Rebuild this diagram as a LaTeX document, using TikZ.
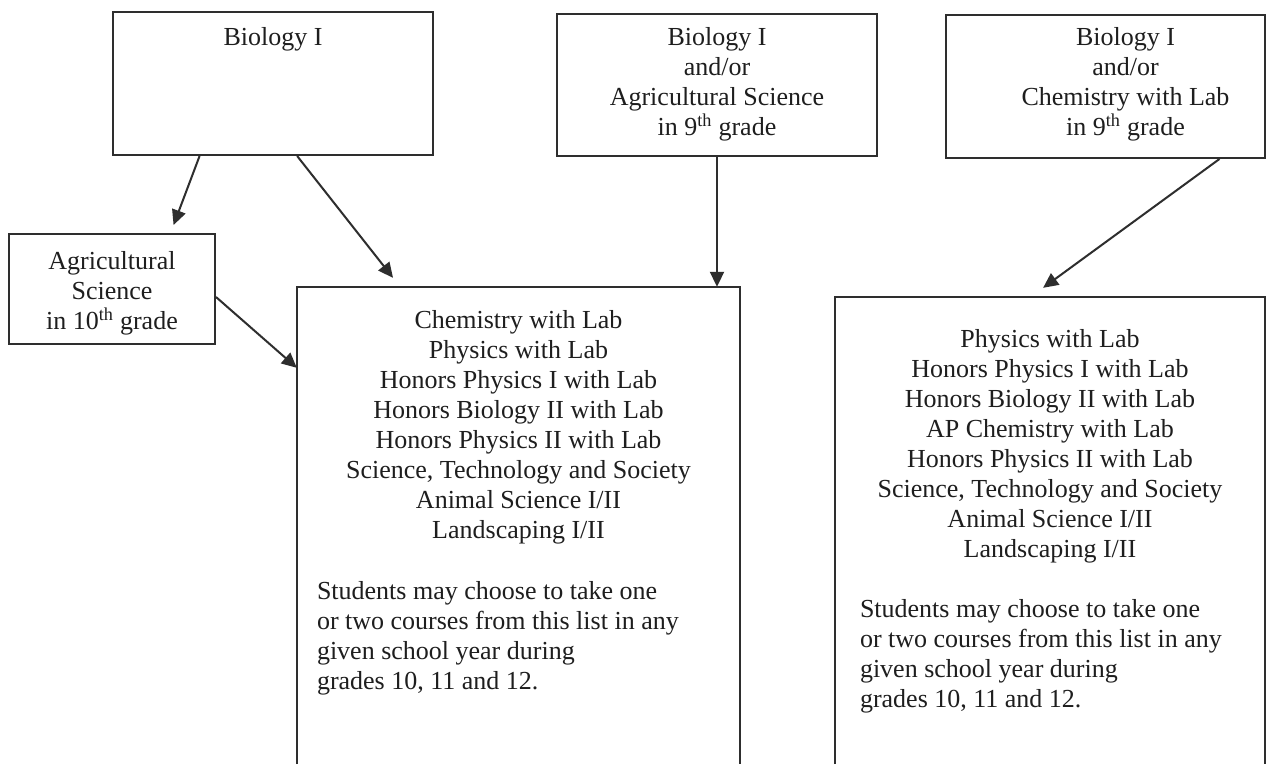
\documentclass[tikz,border=0pt]{standalone}
\usepackage{fontspec}
\setmainfont{Liberation Serif}
\usetikzlibrary{arrows.meta,calc,fit}
\definecolor{ink}{HTML}{2E2E2E}
\definecolor{txtc}{HTML}{1E1E1E}
\begin{document}
\begin{tikzpicture}[x=1pt,y=-1pt,
  frame/.style={draw=ink, line width=2pt, inner sep=0pt},
  openbox/.style={draw=none, inner sep=0pt},
  frameline/.style={draw=ink, line width=2pt},
  txt/.style={inner sep=0pt, text=txtc, align=center, font=\fontsize{26}{30}\selectfont},
  para/.style={inner sep=0pt, text=txtc, align=left, font=\fontsize{26}{30}\selectfont},
  arr/.style={draw=ink, line width=2pt, -{Triangle[length=15pt,width=14pt]}}]
\useasboundingbox[fill=white] (0,0) rectangle (1270,764);

% boxes
\node (A) [frame, fit={(113,12) (433,155)}] {};
\node (B) [frame, fit={(557,14) (877,156)}] {};
\node (C) [frame, fit={(946,15) (1265,158)}] {};
\node (D) [frame, fit={(9,234) (215,344)}] {};
\node (E) [openbox, fit={(297,287) (740,764)}] {};
\node (F) [openbox, fit={(835,297) (1265,764)}] {};
\draw[frameline] (E.south west) -- (E.north west) -- (E.north east) -- (E.south east);
\draw[frameline] (F.south west) -- (F.north west) -- (F.north east) -- (F.south east);

% texts
\node (At) [txt, anchor=north] at ($(A.north)+(0,16)$) {Biology I};
\node (Bt) [txt, anchor=north] at ($(B.north)+(0,14)$) {Biology I\\and/or\\Agricultural Science\\in 9\textsuperscript{th} grade};
\node (Ct) [txt, anchor=north] at ($(C.north)+(20,13)$) {Biology I\\and/or\\Chemistry with Lab\\in 9\textsuperscript{th} grade};
\node (Dt) [txt, anchor=north] at ($(D.north)+(0,18)$) {Agricultural\\Science\\in 10\textsuperscript{th} grade};
\node (Et) [txt, anchor=north] at ($(E.north)+(0,23)$) {Chemistry with Lab\\Physics with Lab\\Honors Physics I with Lab\\Honors Biology II with Lab\\Honors Physics II with Lab\\Science, Technology and Society\\Animal Science I/II\\Landscaping I/II};
\node (Ep) [para, anchor=north west] at ($(E.north west)+(20,294)$) {Students may choose to take one\\or two courses from this list in any\\given school year during\\grades 10, 11 and 12.};
\node (Ft) [txt, anchor=north] at ($(F.north)+(0,32)$) {Physics with Lab\\Honors Physics I with Lab\\Honors Biology II with Lab\\AP Chemistry with Lab\\Honors Physics II with Lab\\Science, Technology and Society\\Animal Science I/II\\Landscaping I/II};
\node (Fp) [para, anchor=north west] at ($(F.north west)+(25,302)$) {Students may choose to take one\\or two courses from this list in any\\given school year during\\grades 10, 11 and 12.};

% connectors
\coordinate (a1) at ($(A.south west)!0.272!(A.south east)$);
\coordinate (a2) at ($(A.south west)!0.575!(A.south east)$);
\coordinate (b1) at (B.south);
\coordinate (c1) at ($(C.south west)!0.855!(C.south east)$);
\draw[arr] (a1) -- ($(D.north west)!0.796!(D.north east)+(0,-8)$);
\draw[arr] (a2) -- ($(E.north west)!0.217!(E.north east)+(0,-9)$);
\draw[arr] (b1) -- (b1 |- E.north);
\draw[arr] (c1) -- ($(F.north west)!0.484!(F.north east)+(0,-9)$);
\draw[arr] ($(D.east)+(0,8)$) -- ($(E.north west)+(0,81)$);
\end{tikzpicture}
\end{document}
